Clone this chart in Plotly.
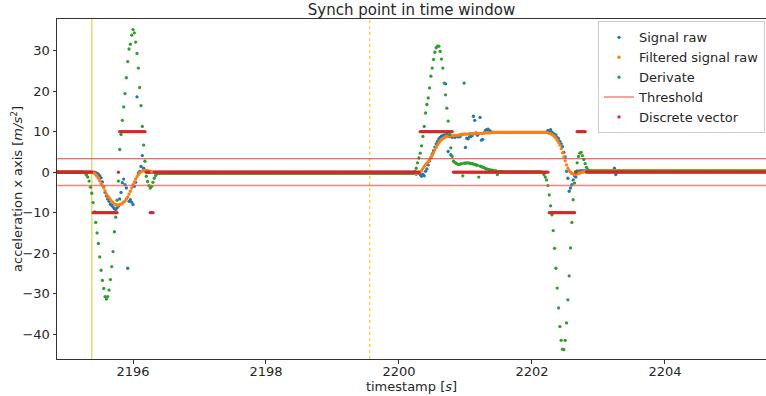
import numpy as np
import plotly.graph_objects as go

# ---------------- sample clock (uniform sensor sampling) ----------------
t_start, t_end, dt = 2194.86, 2205.52, 0.02
timestamps = np.round(np.arange(t_start, t_end + dt / 2, dt), 2)

# ---------------- Signal raw ----------------
raw_base_times = [2194.86, 2201.44, 2202.72]
raw_base_levels = [0.0, 9.8, 0.3]
raw_event1_start = 2195.38
raw_event1 = [0.0, 0.0, 0.0, -0.1, -0.3, -0.5, -0.9, -1.4, -2.4, -3.6, -5.0, -5.9, -6.6, -7.2,
              -7.9, -8.2, -8.6, -9.0, -9.2, -8.8, -8.4, -6.6, -5.0, -2.6, -1.7, -3.1, -3.9, -23.7,
              -7.2, -6.8, -7.4, -8.0, -3.5, -2.5, 18.6, -0.2, 0.2, 1.4, 4.1, 1.0, 0.3, 0.2]
raw_event2_start = 2200.20
raw_event2 = [0.0, -0.2, 0.1, -0.5, -0.3, -0.3, -0.6, -1.0, -0.5, -0.9, 0.2, 0.8, 1.8, 2.8,
              3.6, 4.5, 5.3, 6.2, 7.0, 7.6, 8.2, 8.6, 8.9, 9.0, 9.2, 21.8, 9.3, 5.1, 8.8, 4.3,
              8.6, 8.8, 8.6, 8.8, 8.8, 8.7, 8.8, 9.3, 9.3, 22.0, 6.1, 8.4, 8.2, 8.7, 8.8, 9.0,
              13.8, 12.8, 9.7, 9.1, 9.5, 13.5, 7.9, 8.1, 9.7, 10.3, 10.5, 10.6, 10.3, 10.0, 9.9, 9.8]
raw_event3_start = 2202.20
raw_event3 = [9.8, 9.9, 10.3, 10.0, 10.5, 9.9, 9.6, 9.3, 9.2, 8.6, 8.3, 7.6, 7.0, 6.3, 4.9, 3.8,
              0.2, -1.5, -4.7, -3.9, -3.1, -1.9, -0.9, -1.2, 0.3, 0.2]
raw_late_start = 2203.24
raw_late = [1.0, -0.6]

# ---------------- Filtered signal raw ----------------
filt_base_times = [2194.86, 2196.36, 2201.42, 2202.86]
filt_base_levels = [0.0, -0.3, 9.8, 0.4]
filt_event1_start = 2195.38
filt_event1 = [0.0, -0.1, -0.3, -0.6, -1.0, -1.5, -2.1, -2.8, -3.3, -3.9, -4.6, -5.3, -5.9, -6.3,
               -6.8, -7.2, -7.5, -7.8, -8.0, -8.1, -8.1, -8.0, -7.9, -7.7, -7.4, -7.1, -6.6, -6.1,
               -5.4, -4.7, -3.9, -3.1, -2.4, -1.7, -1.1, -0.6, -0.2, 0.1, 0.3, 0.4, 0.4, 0.4, 0.3,
               0.3, 0.2, 0.1, 0.0, -0.1, -0.2]
filt_event2_start = 2200.30
filt_event2 = [0.0, 0.1, 0.4, 0.9, 1.4, 1.8, 2.2, 2.6, 3.0, 3.6, 4.2, 4.8, 5.5, 6.1, 6.7, 7.2, 7.7,
               8.0, 8.3, 8.5, 8.7, 8.8, 8.9, 9.0, 9.0, 9.0, 9.0, 9.1, 9.1, 9.1, 9.2, 9.2, 9.3, 9.3,
               9.4, 9.4, 9.4, 9.4, 9.5, 9.5, 9.5, 9.5, 9.5, 9.5, 9.6, 9.6, 9.6, 9.6, 9.6, 9.7, 9.7,
               9.7, 9.7, 9.7, 9.7, 9.8]
filt_event3_start = 2202.24
filt_event3 = [9.7, 9.6, 9.5, 9.3, 9.1, 8.8, 8.4, 7.9, 7.3, 6.7, 5.8, 4.8, 3.8, 2.8, 1.8, 1.0, 0.4,
               0.0, -0.3, -0.4, -0.5, -0.5, -0.4, -0.3, -0.2, -0.1, 0.0, 0.1, 0.2, 0.2, 0.3]

# ---------------- Derivate ----------------
deriv_base_times = [2194.86, 2196.40, 2200.24, 2201.58, 2202.90]
deriv_base_levels = [0.0, -0.2, 0.0, 0.1, 0.2]
deriv_event1_start = 2195.28
deriv_event1 = [-0.2, -0.7, -1.2, -2.2, -3.7, -5.2, -7.5, -9.8, -12.4, -15.0, -17.6, -20.9, -24.2,
                -26.7, -28.7, -30.7, -31.3, -30.7, -29.1, -26.5, -23.3, -19.6, -14.7, -11.1, -6.9,
                -2.2, 5.6, 9.3, 12.8, 16.1, 19.4, 23.3, 27.3, 30.4, 31.6, 33.8, 35.2, 34.4, 32.1,
                29.3, 25.7, 20.9, 16.4, 11.3, 6.7, 2.7, -1.0, -2.3, -3.3, -3.9, -3.5, -2.5, -1.5,
                -0.8, -0.4, -0.2]
deriv_event2_start = 2200.24
deriv_event2 = [0.2, 1.0, 2.3, 3.5, 4.7, 6.5, 8.8, 11.3, 14.6, 16.7, 18.3, 20.8, 23.7, 25.7, 27.8,
                29.6, 30.7, 31.1, 31.1, 29.8, 27.9, 25.7, 22.0, 19.1, 15.8, 12.6, 9.3, 6.0, 3.9,
                2.7, 2.4, 2.2, 2.0, 1.9, 2.0, 2.1, -0.9, 2.2, 2.2, 2.3, 2.3, 2.2, 2.1, 2.1, 2.0,
                1.9, 1.8, 1.7, -1.2, 1.5, 1.4, 1.2, 1.1, 0.9, 0.8, 0.7, 0.6, 0.5, 0.5, 0.4, 0.3,
                0.3, -0.6, 0.2, 0.2, 0.2, 0.1]
deriv_event3_start = 2202.16
deriv_event3 = [-0.1, -0.6, -1.2, -1.9, -3.3, -5.6, -8.3, -10.5, -14.4, -18.8, -23.7, -28.6, -33.5,
                -38.1, -41.5, -43.7, -43.8, -41.5, -37.2, -31.5, -25.6, -18.7, -12.4, -6.8, -2.7,
                0.2, 2.3, 3.9, 4.7, 4.9, 4.1, 3.1, 2.1, 1.2, 0.6, 0.3, 0.1]

# ---------------- Discrete vector (step levels) ----------------
discrete_change_times = [2194.86, 2195.40, 2195.78, 2195.80, 2196.20, 2196.26, 2196.32,
                         2200.32, 2200.82, 2202.26, 2202.66, 2202.68, 2202.82]
discrete_levels = [0, -10, 0, 10, 0, -10, 0, 10, 0, -10, 0, 10, 0]

threshold = 3.3
sync_point = 2195.38
window_mark = 2199.56


def step(change_times, levels):
    out = np.zeros(len(timestamps))
    for ct, lv in zip(change_times, levels):
        out[timestamps >= ct - 1e-6] = lv
    return out


def put(arr, start, values):
    i0 = int(round((start - t_start) / dt))
    arr[i0:i0 + len(values)] = values
    return arr


signal_raw = step(raw_base_times, raw_base_levels)
for s, v in [(raw_event1_start, raw_event1), (raw_event2_start, raw_event2),
             (raw_event3_start, raw_event3), (raw_late_start, raw_late)]:
    put(signal_raw, s, v)

filtered = step(filt_base_times, filt_base_levels)
for s, v in [(filt_event1_start, filt_event1), (filt_event2_start, filt_event2),
             (filt_event3_start, filt_event3)]:
    put(filtered, s, v)

derivate = step(deriv_base_times, deriv_base_levels)
for s, v in [(deriv_event1_start, deriv_event1), (deriv_event2_start, deriv_event2),
             (deriv_event3_start, deriv_event3)]:
    put(derivate, s, v)

discrete = step(discrete_change_times, discrete_levels)

MS = 3.3
fig = go.Figure()
fig.add_trace(go.Scatter(x=timestamps, y=signal_raw, mode="markers", name="Signal raw",
                         marker=dict(color="#1f77b4", size=MS)))
fig.add_trace(go.Scatter(x=timestamps, y=filtered, mode="markers", name="Filtered signal raw",
                         marker=dict(color="#ff7f0e", size=MS)))
fig.add_trace(go.Scatter(x=timestamps, y=derivate, mode="markers", name="Derivate",
                         marker=dict(color="#2ca02c", size=MS)))
fig.add_trace(go.Scatter(x=[timestamps[0], timestamps[-1]], y=[threshold, threshold],
                         mode="lines", name="Threshold", showlegend=False,
                         line=dict(color="rgba(214,50,40,0.9)", width=1.1)))
fig.add_trace(go.Scatter(x=[timestamps[0], timestamps[-1]], y=[-threshold, -threshold],
                         mode="lines", name="Threshold",
                         line=dict(color="rgba(240,90,80,0.75)", width=1.5)))
fig.add_trace(go.Scatter(x=timestamps, y=discrete, mode="markers", name="Discrete vector",
                         marker=dict(color="#d62728", size=MS)))

fig.add_vline(x=sync_point, line=dict(color="rgba(191,191,0,0.5)", width=1.6), layer="below")
fig.add_vline(x=window_mark, line=dict(color="rgb(232,212,0)", width=1.1, dash="dot"),
              layer="below")

axis_common = dict(showline=True, linecolor="#333333", linewidth=1, ticks="outside", ticklen=3.5,
                   tickwidth=1, tickcolor="#333333", showgrid=False, zeroline=False,
                   tickfont=dict(size=13, color="#262626"))

fig.update_layout(
    width=766, height=396,
    margin=dict(l=57, r=0, t=19, b=37),
    plot_bgcolor="white", paper_bgcolor="white",
    font=dict(family="DejaVu Sans", size=13, color="#262626"),
    title=dict(text="Synch point in time window", x=0.5, xref="paper", xanchor="center",
               y=0.975, yref="container", yanchor="middle",
               font=dict(size=15, color="#262626")),
    xaxis=dict(range=[2194.857, 2205.52], dtick=2, tick0=2196, mirror=True,
               ticklabelstandoff=-3,
               title=dict(text="timestamp [<i>s</i>]", standoff=2, font=dict(size=13)),
               **axis_common),
    yaxis=dict(range=[-46.1, 37.8], dtick=10, tick0=0, **axis_common),
    legend=dict(x=0.9986, xanchor="right", y=0.993, yanchor="top",
                bgcolor="rgba(255,255,255,0.85)", bordercolor="#cccccc", borderwidth=1,
                font=dict(size=13, color="#262626"), tracegroupgap=0),
)

fig.add_annotation(text="acceleration x axis [<i>m/s</i><sup>2</sup>]", textangle=-90,
                   xref="paper", yref="paper", x=-0.0565, y=0.5, xanchor="center",
                   yanchor="middle", showarrow=False, font=dict(size=13, color="#262626"))

fig.write_html("out.html")
